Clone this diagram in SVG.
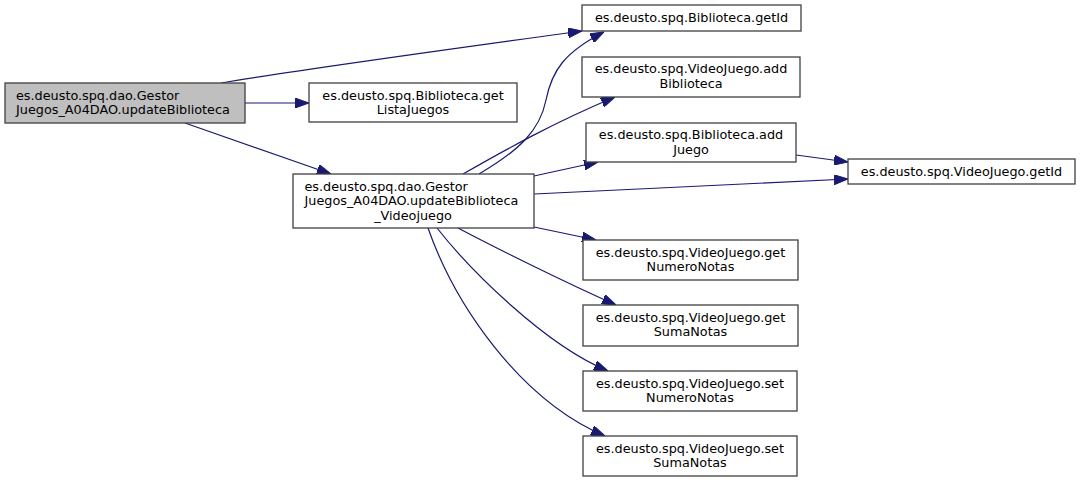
<svg xmlns="http://www.w3.org/2000/svg" width="1080" height="482" viewBox="0 0 1080 482">
<style>
.n rect{fill:#ffffff;stroke:#404040;stroke-width:1.3}
#nA rect{fill:#bfbfbf}
text{font-family:"DejaVu Sans","Liberation Sans",sans-serif;font-size:12.8px;fill:#000}
.c{text-anchor:middle}
.e path{fill:none;stroke:#191970;stroke-width:1.2;marker-end:url(#ah)}
</style>
<defs>
<marker id="ah" viewBox="0 0 14 10" refX="14" refY="5" markerWidth="14" markerHeight="10" markerUnits="userSpaceOnUse" orient="auto">
<path d="M0,0 L14,5 L0,10 z" fill="#191970" stroke="#191970" stroke-width="1"/>
</marker>
</defs>
<rect width="1080" height="482" fill="#ffffff"/>
<g class="e" id="edges">
<path d="M221,83 C280,73 480,45 582,31"/>
<path d="M245,103 L309,103"/>
<path d="M185,123 L331,174"/>
<path d="M479,174 C520,150 540,130 546,100 C552,70 565,52 604,32"/>
<path d="M463,174 C505,150 555,122 615,97"/>
<path d="M534,176 L598,162"/>
<path d="M796,155 L848,162"/>
<path d="M534,194 L848,179"/>
<path d="M534,227 L596,240"/>
<path d="M458,228 C490,245 560,280 616,305"/>
<path d="M437,228 C470,270 545,345 608,371"/>
<path d="M428,228 C455,305 520,400 605,436"/>
</g>
<g class="n" id="nA">
<rect x="5" y="83" width="240" height="40"/>
<text x="16" y="99.5">es.deusto.spq.dao.Gestor</text>
<text x="16" y="114">Juegos_A04DAO.updateBiblioteca</text>
</g>
<g class="n" id="nB">
<rect x="309" y="83" width="208" height="39"/>
<text class="c" x="413" y="99.5">es.deusto.spq.Biblioteca.get</text>
<text class="c" x="413" y="114">ListaJuegos</text>
</g>
<g class="n" id="nC">
<rect x="293" y="174" width="241" height="54"/>
<text x="304.5" y="190.5">es.deusto.spq.dao.Gestor</text>
<text x="304.5" y="205">Juegos_A04DAO.updateBiblioteca</text>
<text class="c" x="413" y="219.5">_Videojuego</text>
</g>
<g class="n" id="nD">
<rect x="582" y="5" width="219" height="26"/>
<text class="c" x="691.5" y="21.5">es.deusto.spq.Biblioteca.getId</text>
</g>
<g class="n" id="nE">
<rect x="582" y="57" width="218" height="40"/>
<text class="c" x="691" y="73">es.deusto.spq.VideoJuego.add</text>
<text class="c" x="691" y="87.5">Biblioteca</text>
</g>
<g class="n" id="nF">
<rect x="586" y="123" width="210" height="39"/>
<text class="c" x="691" y="139">es.deusto.spq.Biblioteca.add</text>
<text class="c" x="691" y="153.5">Juego</text>
</g>
<g class="n" id="nG">
<rect x="848" y="159" width="227" height="25"/>
<text class="c" x="961.5" y="175.5">es.deusto.spq.VideoJuego.getId</text>
</g>
<g class="n" id="nH">
<rect x="583" y="240" width="215" height="40"/>
<text class="c" x="690.5" y="256.5">es.deusto.spq.VideoJuego.get</text>
<text class="c" x="690.5" y="271">NumeroNotas</text>
</g>
<g class="n" id="nI">
<rect x="583" y="305" width="215" height="41"/>
<text class="c" x="690.5" y="321.5">es.deusto.spq.VideoJuego.get</text>
<text class="c" x="690.5" y="336">SumaNotas</text>
</g>
<g class="n" id="nJ">
<rect x="583" y="371" width="214" height="40"/>
<text class="c" x="690" y="387.5">es.deusto.spq.VideoJuego.set</text>
<text class="c" x="690" y="402">NumeroNotas</text>
</g>
<g class="n" id="nK">
<rect x="583" y="436" width="214" height="40"/>
<text class="c" x="690" y="452.5">es.deusto.spq.VideoJuego.set</text>
<text class="c" x="690" y="467">SumaNotas</text>
</g>
</svg>
